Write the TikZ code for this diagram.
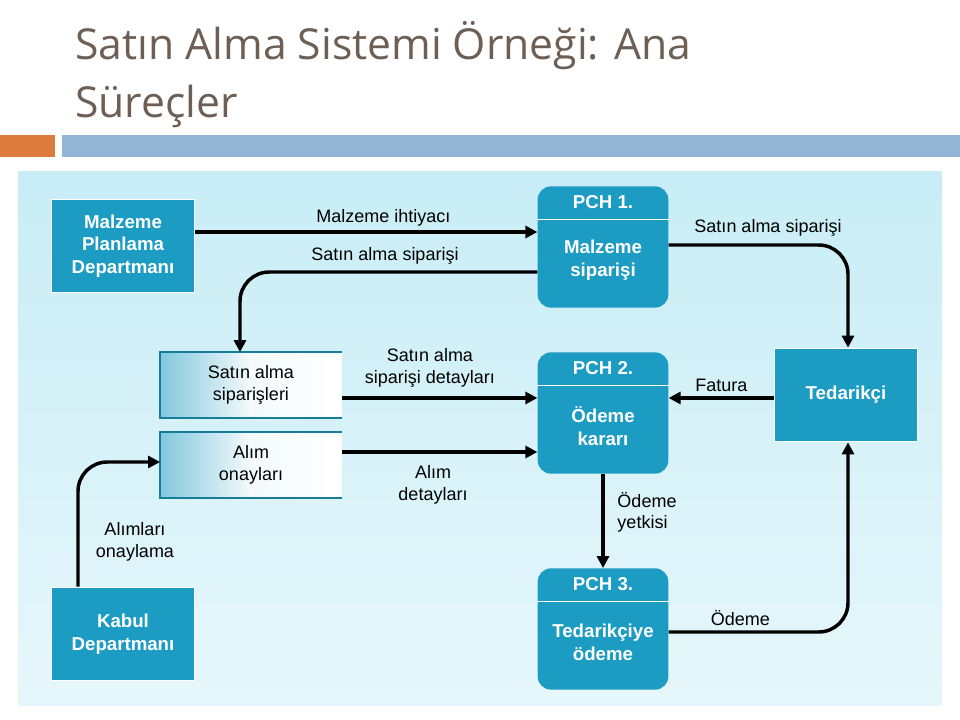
\documentclass[tikz,border=0pt]{standalone}
\usepackage{fontspec}
\setmainfont{Liberation Sans}
\newfontfamily\ttlfont{Open Sans}
\usetikzlibrary{positioning,arrows.meta}
\definecolor{dfdteal}{HTML}{1C9CC2}
\definecolor{ttl}{HTML}{6E5F55}
\definecolor{bar}{HTML}{93B5D5}
\definecolor{org}{HTML}{DD7A3E}
\definecolor{pane}{HTML}{C8EDF6}
\tikzset{
  ent/.style={fill=dfdteal, draw=white, line width=1pt, text=white, font=\bfseries\fontsize{14}{17}\selectfont,
    minimum width=107pt, minimum height=70pt, align=center},
  pch/.style={fill=dfdteal, text=white, rounded corners=10pt, font=\bfseries\fontsize{14}{17}\selectfont,
    minimum width=98pt, minimum height=91pt, align=center},
  store/.style={minimum width=136pt, minimum height=49pt, align=center, inner sep=0pt,
    left color=dfdteal!55, right color=white, middle color=white!95!dfdteal,
    font=\fontsize{13.5}{16}\selectfont},
  lbl/.style={font=\fontsize{13.5}{16}\selectfont, align=center},
  flow/.style={line width=2.6pt, -{Triangle[length=9pt,width=9pt]}, rounded corners=22pt}
}
\begin{document}
\begin{tikzpicture}[x=0.75pt,y=-0.75pt]
\useasboundingbox (0,0) rectangle (960,720);
% title and bars
\node[anchor=base west, text=ttl, font=\ttlfont\fontsize{32}{38}\selectfont, inner sep=0] (ttl1) at (75,60) {Satın Alma Sistemi Örneği: Ana};
\node[anchor=base west, text=ttl, font=\ttlfont\fontsize{32}{38}\selectfont, inner sep=0] (ttl2) at (75,118) {Süreçler};
\fill[org] (0,135) rectangle (55,157);
\fill[bar] (62,135) rectangle (960,157);
\shade[top color=pane, bottom color=pane!45!white] (18,172) rectangle (942,705);

% entities and processes
\node[ent] (mpd) at (123,246) {Malzeme\\Planlama\\Departmanı};
\node[ent] (ted) at (846,395) {Tedarikçi};
\node[ent] (kab) at (123,634) {Kabul\\Departmanı};
\node[pch] (p1) at (603,247) {};
\node[pch] (p2) at (603,413) {};
\node[pch] (p3) at (603,629) {};
\foreach \p/\n/\t in {p1/1/{Malzeme\\siparişi}, p2/2/{Ödeme\\kararı}, p3/3/{Tedarikçiye\\ödeme}}{
  \draw[white, line width=1.2pt] ([yshift=-25pt]\p.north west) -- ([yshift=-25pt]\p.north east);
  \node[text=white, font=\bfseries\fontsize{14}{17}\selectfont] at ([yshift=-12pt]\p.north) {PCH \n.};
  \node[text=white, font=\bfseries\fontsize{14}{17}\selectfont, align=center] at ([yshift=-10pt]\p.center) {\t};
}

% data stores
\node[store] (s1) at (251,385) {Satın alma\\siparişleri};
\node[store] (s2) at (251,465) {Alım\\onayları};
\foreach \s in {s1,s2}
  \draw[dfdteal!80!black, line width=1pt] (\s.north east) -- (\s.north west) -- (\s.south west) -- (\s.south east);

% flows
\draw[flow] (mpd.east |- 0,232) -- node[lbl, above, pos=0.55] {Malzeme ihtiyacı} (p1.west |- 0,232);
\draw[flow] (p1.west |- 0,272) -- (240,272) -- (s1.north -| 240,0);
\node[lbl] (l0) at (385,256) {Satın alma siparişi};
\draw[flow] (p1.east |- 0,245) -- (848,245) -- (ted.north -| 848,0);
\node[lbl] (l1) at (768,228) {Satın alma siparişi};
\draw[flow] (s1.east |- 0,398) -- (p2.west |- 0,398);
\node[lbl] (l2) at (430,368) {Satın alma\\siparişi detayları};
\draw[flow] (ted.west |- 0,398) -- node[lbl, above] {Fatura} (p2.east |- 0,398);
\draw[flow] (s2.east |- 0,452) -- (p2.west |- 0,452);
\node[lbl] (l3) at (433,485) {Alım\\detayları};
\draw[flow] (p2.south) -- (p3.north);
\node[lbl, align=left] (l4) at (647,512) {Ödeme\\yetkisi};
\draw[flow] (p3.east |- 0,632) -- node[lbl, above, pos=0.4] {Ödeme} (848,632) -- (ted.south -| 848,0);
\draw[flow] (kab.north -| 78,0) -- (78,462) -- (s2.west |- 0,462);
\node[lbl] (l5) at (135,542) {Alımları\\onaylama};
\end{tikzpicture}
\end{document}
